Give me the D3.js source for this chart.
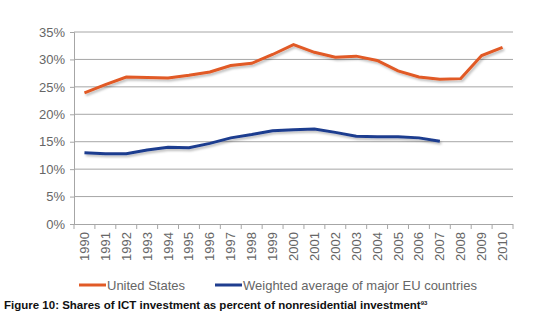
<!DOCTYPE html>
<html>
<head>
<meta charset="utf-8">
<script src="https://cdn.jsdelivr.net/npm/d3@7"></script>
<style>
  body { margin: 0; background: #fff; }
  text { font-family: "Liberation Sans", Arial, sans-serif; }
</style>
</head>
<body>
<script>
// data
var years = ['1990','1991','1992','1993','1994','1995','1996','1997','1998','1999','2000',
             '2001','2002','2003','2004','2005','2006','2007','2008','2009','2010'];
var usShare = [23.9, 25.4, 26.8, 26.7, 26.6, 27.1, 27.7, 28.9, 29.3, 30.9, 32.7,
               31.3, 30.4, 30.6, 29.8, 27.9, 26.8, 26.4, 26.5, 30.7, 32.2];
var euShare = [13.0, 12.8, 12.8, 13.5, 14.0, 13.9, 14.7, 15.7, 16.3, 17.0, 17.2,
               17.3, 16.7, 16.0, 15.9, 15.9, 15.7, 15.1];
var yTicks = [0, 5, 10, 15, 20, 25, 30, 35];

var svg = d3.select('body').append('svg')
    .attr('width', 538)
    .attr('height', 327);

var x = d3.scaleBand().domain(years).range([74, 513]);
var y = d3.scaleLinear().domain([0, 35]).range([224, 32]);

// gridlines
svg.append('g').selectAll('line')
    .data(yTicks.slice(1))
    .enter().append('line')
    .attr('x1', 74).attr('x2', 513)
    .attr('y1', function(d) { return y(d); })
    .attr('y2', function(d) { return y(d); })
    .attr('stroke', '#a6a6a6')
    .attr('stroke-width', 1);

// y axis
var yAxis = svg.append('g')
    .attr('transform', 'translate(74,0)')
    .call(d3.axisLeft(y).tickValues(yTicks).tickSize(4).tickPadding(5)
        .tickFormat(function(d) { return d + '%'; }));
yAxis.select('.domain').attr('stroke', '#a6a6a6');
yAxis.selectAll('.tick line').attr('stroke', '#a6a6a6');
yAxis.selectAll('text').attr('fill', '#666').style('font-size', '13px');

// x axis
var xAxis = svg.append('g')
    .attr('transform', 'translate(0,224)');
xAxis.append('line')
    .attr('x1', 74).attr('x2', 513).attr('y1', 0.5).attr('y2', 0.5)
    .attr('stroke', '#a6a6a6');
xAxis.selectAll('.xt')
    .data(years.concat(['end']))
    .enter().append('line')
    .attr('x1', function(d, i) { return 74 + i * x.step(); })
    .attr('x2', function(d, i) { return 74 + i * x.step(); })
    .attr('y1', 0).attr('y2', 5)
    .attr('stroke', '#a6a6a6');
xAxis.selectAll('text')
    .data(years)
    .enter().append('text')
    .attr('transform', function(d) {
        return 'translate(' + (x(d) + x.bandwidth() / 2 + 4.5) + ',8) rotate(-90)';
    })
    .attr('text-anchor', 'end')
    .attr('fill', '#666')
    .style('font-size', '13px')
    .text(function(d) { return d; });

var line = d3.line()
    .x(function(d, i) { return x(years[i]) + x.bandwidth() / 2; })
    .y(function(d) { return y(d); });

var defs = svg.append('defs');
var f = defs.append('filter').attr('id', 'shadow')
    .attr('x', '-5%').attr('y', '-20%').attr('width', '110%').attr('height', '140%');
f.append('feDropShadow').attr('dx', 1.5).attr('dy', 2).attr('stdDeviation', 1.2)
    .attr('flood-color', '#000').attr('flood-opacity', 0.25);

svg.append('path').datum(usShare)
    .attr('d', line)
    .attr('fill', 'none')
    .attr('stroke', '#e15a26')
    .attr('stroke-width', 3)
    .attr('filter', 'url(#shadow)');

svg.append('path').datum(euShare)
    .attr('d', line)
    .attr('fill', 'none')
    .attr('stroke', '#1f3d8f')
    .attr('stroke-width', 3)
    .attr('filter', 'url(#shadow)');

// legend
var legend = [
    {name: 'United States', color: '#e15a26', x: 79},
    {name: 'Weighted average of major EU countries', color: '#1f3d8f', x: 215}
];
var lg = svg.selectAll('.lg').data(legend).enter().append('g')
    .attr('transform', function(d) { return 'translate(' + d.x + ',285)'; });
lg.append('line')
    .attr('x1', 0).attr('x2', 27).attr('y1', 0).attr('y2', 0)
    .attr('stroke', function(d) { return d.color; })
    .attr('stroke-width', 3);
lg.append('text')
    .attr('x', 28).attr('y', 5)
    .attr('fill', '#666')
    .style('font-size', '13px')
    .text(function(d) { return d.name; });

// caption
var cap = svg.append('text')
    .attr('x', 4).attr('y', 309)
    .attr('fill', '#111')
    .style('font-family', '"Liberation Sans Narrow", "Liberation Sans", sans-serif')
    .style('font-weight', 'bold')
    .style('font-size', '11.5px')
    .text('Figure 10: Shares of ICT investment as percent of nonresidential investment');
cap.append('tspan')
    .attr('dy', -4)
    .style('font-size', '6px')
    .text('93');
</script>
</body>
</html>
